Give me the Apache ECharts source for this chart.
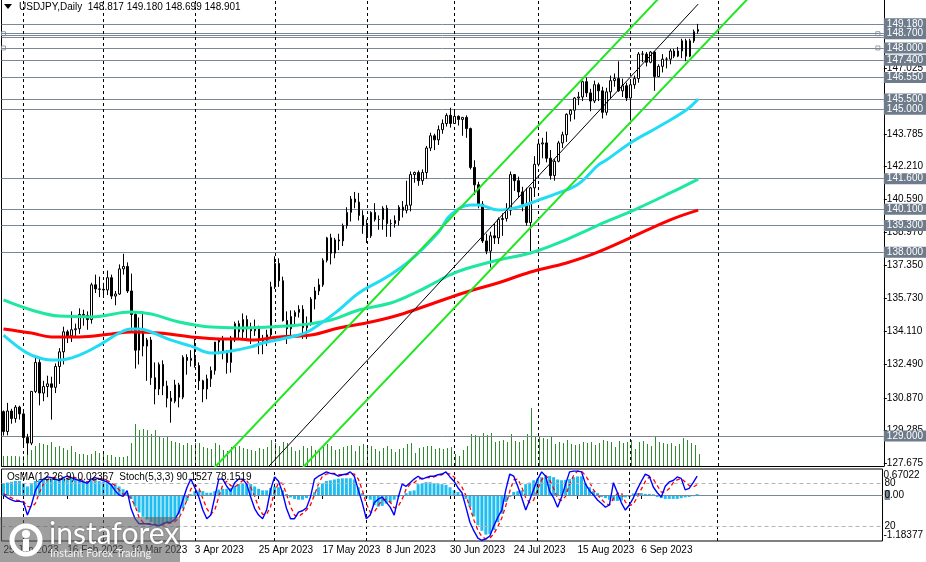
<!DOCTYPE html>
<html><head><meta charset="utf-8">
<script src="https://cdn.jsdelivr.net/npm/echarts@6/dist/echarts.min.js"></script>
<style>html,body{margin:0;padding:0;background:#fff;overflow:hidden}#c{width:926px;height:562px}</style>
</head><body><div id="c"></div>
<script>
// ---------- data ----------
const symbolTitle = 'USDJPY,Daily  148.817 149.180 148.699 148.901';
const indicatorTitle = 'OsMA(12,26,9) 0.02367  Stoch(5,3,3) 90.1527 78.1519';
const firstDate = [2023, 0, 25];
const slotCount = 221;            // bars + empty future slots on the time axis
const monthNames = ['Jan','Feb','Mar','Apr','May','Jun','Jul','Aug','Sep','Oct','Nov','Dec'];

const open = [130.19,129.22,130.22,129.85,130.41,130.08,128.92,128.65,131.18,132.60,131.10,131.42,131.55,131.38,132.40,133.12,134.10,133.90,134.20,134.25,134.95,134.90,134.70,136.40,136.20,136.18,136.15,136.75,135.85,135.95,137.18,137.30,136.10,134.95,133.20,134.20,133.40,133.70,131.85,131.30,132.50,131.45,130.85,130.70,131.50,130.90,132.85,132.70,132.80,132.45,131.70,131.30,131.80,132.20,133.60,133.70,133.10,132.60,133.80,134.50,134.10,134.70,134.25,134.15,134.30,133.75,133.65,133.95,136.30,137.45,136.60,134.65,134.25,134.85,135.05,135.20,134.30,134.50,135.70,136.10,136.40,137.60,138.70,137.95,138.60,138.55,139.30,139.95,140.60,140.45,139.80,139.30,138.80,139.95,139.60,139.60,140.15,139.40,139.40,139.55,140.20,140.05,140.30,141.80,141.90,141.50,141.90,143.10,143.70,143.50,144.00,144.30,144.70,144.30,144.65,144.50,144.60,144.05,142.15,141.30,140.35,138.55,138.05,138.80,138.70,139.60,139.65,140.05,141.80,141.50,140.95,140.35,139.45,141.15,142.30,143.30,143.35,142.60,141.75,142.45,143.35,143.75,144.75,144.95,145.55,145.60,146.35,145.80,145.40,146.20,145.90,144.85,145.85,146.40,146.50,145.90,146.15,145.55,146.20,146.50,147.70,147.70,147.30,147.80,146.60,147.10,147.45,147.45,147.85,147.60,147.85,148.35,147.60,148.35,148.817];
const high = [130.25,130.62,130.33,130.51,130.48,130.20,129.10,131.20,132.90,132.85,131.70,131.95,131.90,132.55,133.30,134.35,134.20,135.10,134.50,135.25,135.18,135.10,136.50,136.90,136.80,136.50,137.10,136.90,136.10,137.40,137.92,137.50,136.95,135.10,134.80,135.10,133.80,133.85,132.60,132.60,132.70,131.70,131.20,131.75,131.60,132.95,133.00,133.20,133.75,132.60,131.75,132.00,132.40,133.60,133.80,133.90,133.20,133.90,134.60,134.65,135.00,134.90,134.55,134.70,134.40,133.95,134.20,136.55,137.80,137.70,136.80,135.10,135.15,135.15,135.40,135.40,134.85,135.80,136.30,136.70,137.70,138.75,138.90,138.70,138.90,139.40,140.20,140.75,140.95,140.90,140.05,139.60,140.00,140.40,139.80,140.25,140.30,139.60,139.80,140.30,140.50,141.50,141.95,141.95,142.00,142.05,143.20,143.85,143.80,144.20,144.50,144.80,145.07,144.90,144.70,144.60,144.70,144.10,142.50,141.45,140.50,138.90,139.00,139.40,139.70,139.90,140.40,141.95,141.80,141.70,141.20,141.15,141.20,142.70,143.55,143.60,143.90,143.00,142.55,143.45,143.90,144.80,145.00,145.60,145.85,146.40,146.55,146.00,146.40,146.30,146.10,146.05,146.65,146.75,147.35,146.50,146.30,146.40,146.65,147.80,147.85,147.80,147.85,147.85,147.20,147.70,147.55,147.95,147.95,148.05,148.45,148.45,148.45,148.90,149.180];
const low = [129.02,129.03,129.60,129.65,129.80,128.55,128.08,128.55,131.10,130.50,130.70,130.90,129.80,131.10,131.55,132.50,133.55,133.60,133.90,134.00,134.40,134.20,134.50,136.00,135.80,135.80,135.90,135.70,135.40,135.90,136.90,136.00,134.10,132.30,132.50,132.90,131.70,131.50,130.55,131.00,131.00,130.40,129.65,130.60,130.40,130.80,132.00,132.40,132.35,131.25,130.65,130.80,131.40,132.00,133.00,132.75,132.05,132.10,133.60,133.80,133.80,133.80,133.50,133.90,133.00,133.00,133.40,133.80,136.20,136.30,134.60,133.50,133.80,134.40,134.80,133.75,133.75,134.40,135.20,135.90,136.30,137.50,137.40,137.70,138.10,138.30,139.15,139.50,140.15,139.55,138.90,138.45,138.70,139.50,139.10,139.10,138.75,138.75,139.20,139.30,139.70,139.90,140.00,141.40,141.25,141.30,141.60,142.95,143.00,143.25,143.80,144.15,144.10,144.30,144.20,143.70,143.60,142.05,140.80,140.15,138.45,137.90,137.25,138.40,138.40,138.80,139.50,139.80,141.00,140.70,140.00,139.30,138.05,140.70,142.20,142.60,142.40,141.55,141.50,142.40,143.10,143.40,144.40,144.50,145.20,145.40,145.60,144.90,145.30,145.40,144.55,144.70,145.50,146.10,145.85,145.60,145.40,144.45,146.00,146.30,147.30,147.10,147.25,145.90,146.60,146.80,147.00,147.20,147.50,147.55,147.50,147.35,147.55,148.25,148.699];
const close = [129.22,130.22,129.85,130.41,130.08,128.92,128.65,131.18,132.60,131.10,131.42,131.55,131.38,132.40,133.12,134.10,133.90,134.20,134.25,134.95,134.90,134.70,136.40,136.20,136.18,136.15,136.75,135.85,135.95,137.18,137.30,136.10,134.95,133.20,134.20,133.40,133.70,131.85,131.30,132.50,131.45,130.85,130.70,131.50,130.90,132.85,132.70,132.80,132.45,131.70,131.30,131.80,132.20,133.60,133.70,133.10,132.60,133.80,134.50,134.10,134.70,134.25,134.15,134.30,133.75,133.65,133.95,136.30,137.45,136.60,134.65,134.25,134.85,135.05,135.20,134.30,134.50,135.70,136.10,136.40,137.60,138.70,137.95,138.60,138.55,139.30,139.95,140.60,140.45,139.80,139.30,138.80,139.95,139.60,139.60,140.15,139.40,139.40,139.55,140.20,140.05,140.30,141.80,141.90,141.50,141.90,143.10,143.70,143.50,144.00,144.30,144.70,144.30,144.65,144.50,144.60,144.05,142.15,141.30,140.35,138.55,138.05,138.80,138.70,139.60,139.65,140.05,141.80,141.50,140.95,140.35,139.45,141.15,142.30,143.30,143.35,142.60,141.75,142.45,143.35,143.75,144.75,144.95,145.55,145.60,146.35,145.80,145.40,146.20,145.90,144.85,145.85,146.40,146.50,145.90,146.15,145.55,146.20,146.50,147.70,147.70,147.30,147.80,146.60,147.10,147.45,147.45,147.85,147.60,147.85,148.35,147.60,148.35,148.80,148.901];
const tickVolume = [20,20,20,20,19,20,36,32,40,46,44,42,48,38,40,36,32,40,28,24,24,22,24,30,26,26,22,22,18,18,18,20,46,84,72,74,72,64,72,58,56,58,50,48,46,42,46,42,46,46,38,36,34,46,42,32,30,38,38,40,36,34,32,30,36,34,38,52,46,40,48,46,38,30,32,40,36,40,32,34,38,44,40,32,34,38,40,42,30,40,44,42,40,34,30,36,40,34,28,34,36,44,46,26,36,38,40,40,34,36,34,36,38,24,20,32,40,64,62,60,66,62,66,48,50,52,48,64,50,48,52,64,116,60,58,56,54,60,44,48,46,52,44,42,44,48,46,48,42,46,52,50,48,38,50,46,48,52,34,48,50,44,40,58,48,46,44,46,40,44,56,52,46,42,24];

// moving averages at sample bars
const maCyanBar = [0,4,7,12,14,19,24,29,32,34,37,42,47,52,57,62,65,74,77,84,89,96,102,109,112,117,119,124,129,134,139,144,149,151,157,164,171,174];
const maCyanVal = [133.94,133.31,132.96,132.72,132.72,132.96,133.45,134.04,134.24,134.24,134.09,133.69,133.40,133.06,133.16,133.36,133.55,133.94,134.19,135.17,136.00,136.78,137.62,138.99,139.82,140.31,140.31,140.06,140.21,140.55,140.90,141.34,142.27,142.51,143.35,144.13,144.96,145.50];
const maGreenBar = [0,7,14,22,32,37,44,52,59,66,74,82,89,97,103,109,112,116,124,132,139,149,152,159,167,174];
const maGreenVal = [135.66,135.17,134.87,134.83,135.07,134.97,134.58,134.33,134.29,134.33,134.43,134.68,135.17,135.51,136.00,136.60,136.90,137.20,137.62,137.96,138.45,139.33,139.58,140.16,140.90,141.58];
const maRedBar = [0,7,12,19,27,32,39,47,54,59,62,69,77,84,92,99,107,116,124,132,141,149,167,174];
const maRedVal = [134.24,134.04,133.85,133.85,133.99,134.09,134.04,133.85,133.75,133.75,133.70,133.85,133.94,134.29,134.58,134.92,135.45,136.05,136.50,137.03,137.47,138.01,139.58,140.06];

// drawn objects: channel lines [bar, price]
const channelUpper = [[40,124.80],[180,153.71]];
const channelLower = [[60,124.37],[200,153.21]];
const trendMiddle = [[50,124.05],[174,150.15]];

const levelLines = [149.18,148.70,148.62,148.52,148.00,147.40,146.55,145.50,145.00,141.60,140.10,139.30,138.00,129.00];
const labeledLevels = [149.18,148.70,148.00,147.40,146.55,145.50,145.00,141.60,140.10,139.30,138.00,129.00];
const anchoredLevels = [148.70,148.00];      // levels with small square anchors
const anchorBars = [0, 219];
const priceTicks = [127.675,129.285,130.870,132.490,134.110,135.730,137.350,138.970,140.590,142.210,143.785,145.405,147.025,148.645];
const priceMin = 127.528, priceMax = 150.349;
const monthStartBars = [5,25,48,68,91,113,134,157,179];
const dateLabelStep = 16;

const osma = [0.30,0.32,0.34,0.36,0.36,0.30,0.22,0.28,0.36,0.38,0.40,0.42,0.42,0.42,0.44,0.45,0.44,0.43,0.42,0.40,0.38,0.36,0.38,0.38,0.36,0.34,0.33,0.30,0.28,0.22,0.15,0.05,-0.10,-0.30,-0.45,-0.56,-0.63,-0.70,-0.75,-0.77,-0.74,-0.72,-0.68,-0.60,-0.50,-0.35,-0.15,0.02,0.10,0.12,0.10,0.06,0.06,0.10,0.14,0.16,0.16,0.18,0.24,0.28,0.30,0.30,0.28,0.22,0.16,0.12,0.12,0.18,0.22,0.20,0.12,0.02,-0.06,-0.10,-0.12,-0.12,-0.08,-0.02,0.07,0.20,0.30,0.36,0.38,0.40,0.42,0.43,0.43,0.43,0.40,0.20,0.05,-0.07,-0.12,-0.26,-0.30,-0.28,-0.22,-0.20,-0.12,-0.05,0.00,0.05,0.10,0.12,0.28,0.30,0.33,0.33,0.30,0.28,0.28,0.26,0.20,0.12,0.08,0.02,-0.10,-0.30,-0.55,-0.78,-0.92,-1.02,-1.00,-0.90,-0.70,-0.48,-0.18,-0.05,0.08,0.10,0.12,0.28,0.32,0.38,0.42,0.46,0.48,0.49,0.46,0.40,0.38,0.39,0.41,0.46,0.48,0.48,0.30,0.20,0.10,0.05,-0.05,-0.08,-0.12,-0.15,-0.15,-0.14,-0.06,-0.05,0.04,0.05,0.05,0.03,0.03,0.02,-0.05,-0.08,-0.10,-0.10,-0.10,-0.10,-0.08,-0.06,-0.05,-0.03,0.02367];
const osmaMin = -1.18377, osmaMax = 0.67022;
const stochMain = [64,60,57,55,55,54,36,50,70,80,86,89,88,86,84,88,90,88,86,84,82,80,86,88,86,84,82,78,70,64,62,70,45,31,24,24,24,23,22,21,24,26,26,30,40,57,74,86,74,61,43,31,36,61,86,86,76,69,81,86,86,79,61,45,36,31,43,71,89,83,67,45,31,31,40,42,46,61,86,90,93,96,94,93,90,92,93,96,90,71,53,31,36,53,58,61,54,47,36,60,79,76,81,86,90,86,88,90,90,92,93,96,89,83,74,67,47,26,14,4,1,3,7,21,33,43,71,93,90,76,60,43,57,72,86,96,90,69,60,47,61,79,96,97,97,96,79,70,64,57,52,47,50,81,67,53,43,50,60,72,83,93,90,75,67,61,76,82,84,89,87,71,73,81,90.1527];
const stochSignal = [66,63,60,57,56,55,48,47,52,67,79,85,88,88,86,86,87,89,88,86,84,82,83,85,87,86,84,81,77,71,65,65,59,49,33,26,24,24,23,22,22,24,25,27,32,42,57,72,78,74,59,45,37,43,61,78,83,77,75,79,84,84,75,62,47,37,37,48,68,81,80,65,48,36,34,38,43,50,64,79,90,93,94,94,92,92,92,94,93,86,71,52,40,40,49,57,58,54,46,48,58,72,79,81,86,87,88,88,89,91,92,94,93,89,82,75,63,47,29,15,6,3,4,10,20,32,49,69,85,86,75,60,53,57,72,85,91,85,73,59,56,62,79,91,97,97,91,82,71,64,58,52,50,59,66,67,54,49,51,61,72,83,89,86,77,68,68,73,81,85,87,82,77,75,78.1519];
const stochLevels = [20, 80];
const osmaTicks = [-1.18377, 0.67022];

// ---------- build ----------
const categories = [];
{
  const d = new Date(Date.UTC(firstDate[0], firstDate[1], firstDate[2]));
  while (categories.length < slotCount) {
    const wd = d.getUTCDay();
    if (wd !== 0 && wd !== 6) categories.push(d.getUTCDate() + ' ' + monthNames[d.getUTCMonth()] + ' ' + d.getUTCFullYear());
    d.setUTCDate(d.getUTCDate() + 1);
  }
}
const FONT = "'Liberation Sans','DejaVu Sans',sans-serif";
const candleData = open.map((o, i) => [o, close[i], low[i], high[i]]);
const pairs = (xs, ys) => xs.map((x, k) => [x, ys[k]]);
const G_LEFT = 1.5, G_W = 884;
const vLineStyle = { color: '#000', width: 1, type: [3, 3] };
const vLines = monthStartBars.map(i => ({ xAxis: categories[i], symbol: 'none', symbolSize: 0, lineStyle: vLineStyle, label: { show: false } }));
const anchorPts = [];
anchoredLevels.forEach(v => anchorBars.forEach(b => anchorPts.push([b, v])));

const chart = echarts.init(document.getElementById('c'), null, { renderer: 'canvas' });
chart.setOption({
  animation: false,
  backgroundColor: '#ffffff',
  textStyle: { fontFamily: FONT },
  grid: [
    { left: G_LEFT, width: G_W, top: 0, height: 466, show: false },
    { left: G_LEFT, width: G_W, top: 300, height: 166, show: false },
    { left: G_LEFT, width: G_W, top: 469, height: 72, show: true, borderColor: '#000', borderWidth: 1, backgroundColor: 'transparent' }
  ],
  xAxis: [
    { gridIndex: 0, type: 'category', data: categories, boundaryGap: true,
      axisLine: { show: true, lineStyle: { color: '#000' } }, axisTick: { show: false }, axisLabel: { show: false }, splitLine: { show: false } },
    { gridIndex: 1, type: 'category', data: categories, boundaryGap: true, show: false },
    { gridIndex: 2, type: 'category', data: categories, boundaryGap: true,
      axisLine: { show: false }, splitLine: { show: false },
      axisTick: { show: true, alignWithLabel: true, length: 4, lineStyle: { color: '#000' },
        interval: (i) => i % dateLabelStep === 0 && i < close.length },
      axisLabel: { show: true, align: 'left', margin: 4, fontSize: 10, color: '#000', fontFamily: FONT,
        interval: (i) => i % dateLabelStep === 0 && i < close.length } }
  ],
  yAxis: [
    { gridIndex: 0, type: 'value', position: 'right', min: priceMin, max: priceMax, scale: true,
      axisLine: { show: true, lineStyle: { color: '#000' } },
      axisTick: { show: true, length: 3, customValues: priceTicks, lineStyle: { color: '#000' } },
      axisLabel: { show: true, customValues: priceTicks, margin: 3, fontSize: 10, color: '#000', fontFamily: FONT,
        formatter: v => v.toFixed(3) },
      splitLine: { show: false } },
    { gridIndex: 1, type: 'value', min: 0, max: 332, show: false },
    { gridIndex: 2, type: 'value', position: 'right', min: osmaMin, max: osmaMax,
      axisLine: { show: false }, axisTick: { show: false }, splitLine: { show: false },
      axisLabel: { show: true, customValues: osmaTicks, margin: 1, fontSize: 10, color: '#000', fontFamily: FONT,
        overflow: 'none', width: 60,
        formatter: v => (v === osmaMax ? '{t|' + String(v) + '}' : '{m|' + String(v) + '}'),
        rich: {
          t: { padding: [12, 0, 0, 0], fontSize: 10, fontFamily: FONT, color: '#000' },
          m: { padding: [0, 0, 12, 0], fontSize: 10, fontFamily: FONT, color: '#000' }
        } } },
    { gridIndex: 2, type: 'value', position: 'right', min: 0, max: 100,
      axisLine: { show: false }, axisTick: { show: false }, splitLine: { show: false },
      axisLabel: { show: true, customValues: stochLevels, margin: 2, fontSize: 10, color: '#000', fontFamily: FONT,
        formatter: v => String(v) } },
    { gridIndex: 0, type: 'value', position: 'left', min: priceMin, max: priceMax,
      axisLine: { show: true, lineStyle: { color: '#000' } }, axisTick: { show: false }, axisLabel: { show: false }, splitLine: { show: false } }
  ],
  series: [
    { // grid verticals + horizontal level objects
      type: 'line', xAxisIndex: 0, yAxisIndex: 0, data: [], z: 1, silent: true,
      markLine: {
        silent: true, symbol: 'none', symbolSize: 0, animation: false, precision: 3,
        lineStyle: { color: '#7b8794', width: 1, type: 'solid' },
        label: { show: true, position: 'end', distance: 0, formatter: p => Number(p.value).toFixed(3),
          color: '#fff', backgroundColor: '#6e7b8b', padding: [1, 3, 0, 3], fontSize: 10, fontFamily: FONT },
        data: levelLines.map(v => ({
          yAxis: v, symbol: 'none', symbolSize: 0,
          label: { show: labeledLevels.includes(v) }
        })).concat(vLines)
      }
    },
    { type: 'scatter', xAxisIndex: 0, yAxisIndex: 0, data: anchorPts, symbol: 'rect', symbolSize: 4, z: 2, silent: true,
      itemStyle: { color: '#ffffff', borderColor: '#7b8794', borderWidth: 1 } },
    { type: 'bar', xAxisIndex: 1, yAxisIndex: 1, data: tickVolume, barWidth: 1, z: 2, silent: true,
      itemStyle: { color: '#2e8b2e' } },
    { type: 'candlestick', xAxisIndex: 0, yAxisIndex: 0, data: candleData, barWidth: 2, z: 5, silent: true,
      itemStyle: { color: '#ffffff', color0: '#000000', borderColor: '#000000', borderColor0: '#000000', borderWidth: 1 } },
    { type: 'line', xAxisIndex: 0, yAxisIndex: 0, data: pairs(maRedBar, maRedVal), smooth: 0.4, showSymbol: false, z: 6,
      lineStyle: { color: '#ff0000', width: 3 }, silent: true },
    { type: 'line', xAxisIndex: 0, yAxisIndex: 0, data: pairs(maGreenBar, maGreenVal), smooth: 0.4, showSymbol: false, z: 6,
      lineStyle: { color: '#1ee8a0', width: 3 }, silent: true },
    { type: 'line', xAxisIndex: 0, yAxisIndex: 0, data: pairs(maCyanBar, maCyanVal), smooth: 0.4, showSymbol: false, z: 6,
      lineStyle: { color: '#22dcf5', width: 3 }, silent: true },
    { type: 'line', xAxisIndex: 0, yAxisIndex: 0, data: channelUpper, showSymbol: false, z: 7, clip: true,
      lineStyle: { color: '#22e622', width: 2 }, silent: true },
    { type: 'line', xAxisIndex: 0, yAxisIndex: 0, data: channelLower, showSymbol: false, z: 7, clip: true,
      lineStyle: { color: '#22e622', width: 2 }, silent: true },
    { type: 'line', xAxisIndex: 0, yAxisIndex: 0, data: trendMiddle, z: 7, clip: true,
      symbol: (v, p) => p.dataIndex === trendMiddle.length - 1 ? 'diamond' : 'none', symbolSize: 9, showSymbol: true,
      itemStyle: { color: '#a0a0a0' },
      lineStyle: { color: '#000', width: 1 }, silent: true },
    // lower pane
    { type: 'bar', xAxisIndex: 2, yAxisIndex: 2, data: osma, barWidth: 3, z: 3, silent: true,
      itemStyle: { color: '#1fbdf0' },
      markLine: {
        silent: true, symbol: 'none', symbolSize: 0, animation: false,
        lineStyle: { color: '#7b8794', width: 1, type: 'solid' },
        label: { show: true, position: 'end', distance: 2, fontSize: 10, fontFamily: FONT, color: '#000',
          formatter: () => '{b|0}.00', rich: { b: { backgroundColor: '#7b8794', color: '#000', fontSize: 10, fontFamily: FONT } } },
        data: [{ yAxis: 0, symbol: 'none', symbolSize: 0 }].concat(vLines)
      } },
    { type: 'line', xAxisIndex: 2, yAxisIndex: 3, data: stochSignal, showSymbol: false, z: 4, silent: true,
      lineStyle: { color: '#ff0000', width: 1.3, type: [4, 3] },
      markLine: { silent: true, symbol: 'none', symbolSize: 0, animation: false, label: { show: false },
        lineStyle: { color: '#b4b4b4', width: 1, type: [4, 3] },
        data: stochLevels.map(v => ({ yAxis: v, symbol: 'none', symbolSize: 0 })) } },
    { type: 'line', xAxisIndex: 2, yAxisIndex: 3, data: stochMain, showSymbol: false, z: 5, silent: true,
      lineStyle: { color: '#0000ff', width: 1.4 } }
  ],
  graphic: [
    { type: 'polygon', shape: { points: [[4, 4], [12, 4], [8, 9]] }, style: { fill: '#000' }, z: 50 },
    { type: 'text', x: 19, y: 7, style: { text: symbolTitle, font: '10px ' + FONT, fill: '#000', textVerticalAlign: 'middle' }, z: 50 },
    { type: 'text', x: 7, y: 477, style: { text: indicatorTitle, font: '10px ' + FONT, fill: '#000', textVerticalAlign: 'middle' }, z: 50 },
    // watermark
    { type: 'rect', shape: { x: 0, y: 517, width: 180, height: 45 }, style: { fill: 'rgba(95,95,95,0.6)' }, z: 60 },
    { type: 'circle', shape: { cx: 26, cy: 540, r: 14 }, style: { fill: 'none', stroke: '#ffffff', lineWidth: 5 }, z: 61 },
    { type: 'circle', shape: { cx: 26, cy: 534, r: 4 }, style: { fill: '#ffffff' }, z: 61 },
    { type: 'rect', shape: { x: 23, y: 539, width: 6, height: 12 }, style: { fill: '#ffffff' }, z: 61 },
    { type: 'text', x: 49, y: 534, style: { text: 'instaforex', font: '30px Lato, ' + FONT, fill: '#ffffff', textVerticalAlign: 'middle',
      textShadowColor: 'rgba(0,0,0,0.4)', textShadowBlur: 2 }, z: 61 },
    { type: 'text', x: 50, y: 553, style: { text: 'Instant Forex Trading', font: '11px Lato, ' + FONT, fill: '#f0f0f0', textVerticalAlign: 'middle' }, z: 61 }
  ]
});
</script></body></html>
